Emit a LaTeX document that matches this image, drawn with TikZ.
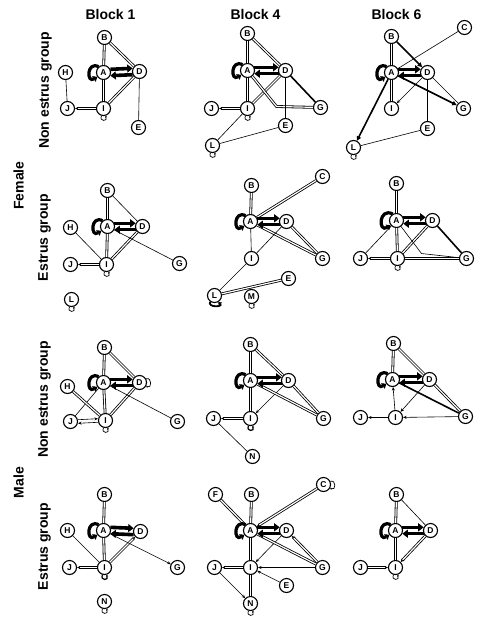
\documentclass[tikz,border=0pt]{standalone}
\usepackage{fontspec}
\setmainfont{Liberation Sans}
\usetikzlibrary{arrows.meta}
\begin{document}
\begin{tikzpicture}[x=1pt,y=-1pt,
 nd/.style={circle,draw,line width=1.1pt,fill=white,minimum size=14pt,inner sep=0pt,font=\bfseries\fontsize{8.5}{9}\selectfont},
 sl/.style={line width=0.6pt},
 dl/.style={double,double distance=1.2pt,line width=0.8pt},
 thk/.style={line width=1.6pt},
 tip/.style={-{Stealth[length=3.5pt,width=3pt]}},
 thtip/.style={-{Triangle[length=4.5pt,width=4.5pt]}},
 fat/.style={line width=3.6pt,-{Triangle[length=5.5pt,width=8pt]}},
 selfl/.style={line width=3.2pt,-{Triangle[length=4pt,width=6.5pt]}},
 sloop/.style={line width=0.7pt,-{Stealth[length=2pt,width=2pt]}},
 title/.style={font=\bfseries\fontsize{14}{14}\selectfont},
 rowlab/.style={font=\bfseries\fontsize{14}{14}\selectfont,rotate=90}
]
\useasboundingbox (0,0) rectangle (477,619);
\fill[white] (0,0) rectangle (477,619);
\begin{scope}[shift={(0.5,0.5)}]
% titles and labels
\node[title] (t1) at (110,14) {Block 1};
\node[title] (t4) at (255,14) {Block 4};
\node[title] (t6) at (396,14) {Block 6};
\node[rowlab] (lab1) at (45,90) {Non estrus group};
\node[rowlab] (lab2) at (44,237) {Estrus group};
\node[rowlab] (lab3) at (44,399) {Non estrus group};
\node[rowlab] (lab4) at (44,546) {Estrus group};
\node[rowlab] (fem) at (18,185) {Female};
\node[rowlab] (male) at (18,482) {Male};

% ---------- panel 1-1
\node[nd] (p11B) at (104,37) {B};
\node[nd] (p11A) at (103,72) {A};
\node[nd] (p11D) at (139,71) {D};
\node[nd] (p11H) at (65,72) {H};
\node[nd] (p11J) at (67,108) {J};
\node[nd] (p11I) at (103,108) {I};
\node[nd] (p11E) at (138,127) {E};
\draw[dl] (p11B) -- (p11A);
\draw[dl] (p11B) -- (p11D);
\draw[dl] (p11A) -- (p11I);
\draw[dl] (p11D) -- (p11I);
\draw[sl] (p11D) -- (p11E);
\draw[sl] (p11H) -- (p11J);
\draw[dl,tip] (p11I) -- (p11J);
\draw[fat] (p11A.25) -- (p11D.155);
\draw[fat] (p11D.205) -- (p11A.335);
\draw[selfl] (p11A.130) .. controls +(-12,-6) and +(-11,7) .. (p11A.215);
\draw[sloop] (p11I.255) .. controls +(-3,6) and +(3,6) .. (p11I.285);

% ---------- panel 1-2
\node[nd] (p12B) at (247,33) {B};
\node[nd] (p12A) at (247,70) {A};
\node[nd] (p12D) at (285,70) {D};
\node[nd] (p12J) at (211,108) {J};
\node[nd] (p12I) at (247,108) {I};
\node[nd] (p12G) at (320,107) {G};
\node[nd] (p12E) at (285,125) {E};
\node[nd] (p12L) at (212,145) {L};
\coordinate (p12k) at (276,106);
\draw[dl] (p12B) -- (p12A);
\draw[dl] (p12B) -- (p12D);
\draw[dl] (p12A) -- (p12I);
\draw[dl] (p12D) -- (p12I);
\draw[thk] (p12D) -- (p12G);
\draw[dl] (p12A) -- (p12k) -- (p12G);
\draw[sl] (p12D) -- (p12E);
\draw[dl,tip] (p12I) -- (p12J);
\draw[sl] (p12I) -- (p12L);
\draw[sl] (p12L) -- (p12E);
\draw[fat] (p12A.25) -- (p12D.155);
\draw[fat] (p12D.205) -- (p12A.335);
\draw[selfl] (p12A.130) .. controls +(-12,-6) and +(-11,7) .. (p12A.215);
\draw[sloop] (p12I.255) .. controls +(-3,6) and +(3,6) .. (p12I.285);
\draw[sloop] (p12L.255) .. controls +(-3,6) and +(3,6) .. (p12L.285);

% ---------- panel 1-3
\node[nd] (p13C) at (464,27) {C};
\node[nd] (p13B) at (391,36) {B};
\node[nd] (p13A) at (391,72) {A};
\node[nd] (p13D) at (427,72) {D};
\node[nd] (p13I) at (391,108) {I};
\node[nd] (p13G) at (463,108) {G};
\node[nd] (p13E) at (427,128) {E};
\node[nd] (p13L) at (353,147) {L};
\draw[sl] (p13A) -- (p13C);
\draw[dl] (p13B) -- (p13A);
\draw[thk,thtip] (p13B) -- (p13D);
\draw[dl] (p13A) -- (p13I);
\draw[sl,tip] (p13D) -- (p13I);
\draw[thk,thtip] (p13A) -- (p13G);
\draw[sl] (p13D) -- (p13G);
\draw[sl] (p13D) -- (p13E);
\draw[thk,thtip] (p13A) -- (p13L);
\draw[sl] (p13L) -- (p13E);
\draw[fat] (p13A.25) -- (p13D.155);
\draw[fat] (p13D.205) -- (p13A.335);
\draw[selfl] (p13A.130) .. controls +(-12,-6) and +(-11,7) .. (p13A.215);
\draw[sloop] (p13L.255) .. controls +(-3,6) and +(3,6) .. (p13L.285);

% ---------- panel 2-1
\node[nd] (p21B) at (107,190) {B};
\node[nd] (p21A) at (107,226) {A};
\node[nd] (p21D) at (142,226) {D};
\node[nd] (p21H) at (70,227) {H};
\node[nd] (p21J) at (70,264) {J};
\node[nd] (p21I) at (106,264) {I};
\node[nd] (p21G) at (179,263) {G};
\node[nd] (p21L) at (71,299) {L};
\draw[dl] (p21B) -- (p21A);
\draw[sl] (p21B) -- (p21D);
\draw[dl] (p21A) -- (p21I);
\draw[dl] (p21D) -- (p21I);
\draw[sl] (p21A) -- (p21G);
\draw[sl] (p21H) -- (p21I);
\draw[dl,tip] (p21I) -- (p21J);
\draw[fat] (p21A.25) -- (p21D.155);
\draw[fat] (p21D.205) -- (p21A.335);
\draw[selfl] (p21A.130) .. controls +(-12,-6) and +(-11,7) .. (p21A.215);
\draw[sloop] (p21I.255) .. controls +(-3,6) and +(3,6) .. (p21I.285);
\draw[sloop] (p21L.255) .. controls +(-3,6) and +(3,6) .. (p21L.285);

% ---------- panel 2-2
\node[nd] (p22C) at (322,176) {C};
\node[nd] (p22B) at (251,185) {B};
\node[nd] (p22A) at (250,221) {A};
\node[nd] (p22D) at (286,221) {D};
\node[nd] (p22I) at (251,258) {I};
\node[nd] (p22G) at (322,258) {G};
\node[nd] (p22E) at (288,278) {E};
\node[nd] (p22L) at (214,295) {L};
\node[nd] (p22M) at (251,296) {M};
\draw[dl] (p22B) -- (p22A);
\draw[dl] (p22A) -- (p22C);
\draw[dl] (p22A) -- (p22G);
\draw[dl] (p22D) -- (p22G);
\draw[sl] (p22A) -- (p22I);
\draw[sl] (p22D) -- (p22I);
\draw[sl] (p22I) -- (p22L);
\draw[dl] (p22L) -- (p22E);
\draw[fat] (p22A.25) -- (p22D.155);
\draw[fat] (p22D.205) -- (p22A.335);
\draw[selfl] (p22A.130) .. controls +(-12,-6) and +(-11,7) .. (p22A.215);
\draw[line width=1.8pt,-{Triangle[length=3pt,width=4.5pt]}] (p22L.235) .. controls +(-3,6) and +(5,5) .. (p22L.300);
\draw[sloop] (p22M.255) .. controls +(-3,6) and +(3,6) .. (p22M.285);

% ---------- panel 2-3
\node[nd] (p23B) at (396,183) {B};
\node[nd] (p23A) at (396,220) {A};
\node[nd] (p23D) at (432,220) {D};
\node[nd] (p23J) at (360,258) {J};
\node[nd] (p23I) at (397,258) {I};
\node[nd] (p23G) at (466,258) {G};
\coordinate (p23k) at (421,253);
\draw[dl] (p23B) -- (p23A);
\draw[dl] (p23A) -- (p23I);
\draw[sl] (p23A) -- (p23J);
\draw[dl] (p23D) -- (p23I);
\draw[thk] (p23D) -- (p23G);
\draw[sl] (p23A) -- (p23k) -- (p23G);
\draw[dl] (p23I) -- (p23G);
\draw[dl,tip] (p23I) -- (p23J);
\draw[fat] (p23A.25) -- (p23D.155);
\draw[fat] (p23D.205) -- (p23A.335);
\draw[selfl] (p23A.120) .. controls +(-14,-7) and +(-13,8) .. (p23A.220);
\draw[sloop] (p23I.255) .. controls +(-3,6) and +(3,6) .. (p23I.285);

% ---------- panel 3-1
\node[nd] (p31B) at (104,347) {B};
\node[nd] (p31A) at (103,382) {A};
\node[nd] (p31D) at (139,382) {D};
\node[nd] (p31H) at (67,386) {H};
\node[nd] (p31J) at (70,421) {J};
\node[nd] (p31I) at (105,420) {I};
\node[nd] (p31G) at (177,421) {G};
\draw[dl] (p31B) -- (p31A);
\draw[dl] (p31B) -- (p31D);
\draw[dl] (p31A) -- (p31I);
\draw[dl] (p31D) -- (p31I);
\draw[sl] (p31A) -- (p31J);
\draw[dl] (p31H) -- (p31I);
\draw[sl] (p31A) -- (p31G);
\draw[sl,tip] ([yshift=1.8pt]p31J.east) -- ([yshift=1.8pt]p31I.west);
\draw[sl,tip] ([yshift=-1.8pt]p31I.west) -- ([yshift=-1.8pt]p31J.east);
\draw[fat] (p31A.25) -- (p31D.155);
\draw[fat] (p31D.205) -- (p31A.335);
\draw[selfl] (p31A.130) .. controls +(-12,-6) and +(-11,7) .. (p31A.215);
\draw[sloop] (p31D.30) .. controls +(6,-2) and +(6,3) .. (p31D.-30);
\draw[sloop] (p31I.255) .. controls +(-3,6) and +(3,6) .. (p31I.285);

% ---------- panel 3-2
\node[nd] (p32B) at (250,344) {B};
\node[nd] (p32A) at (250,380) {A};
\node[nd] (p32D) at (288,380) {D};
\node[nd] (p32J) at (213,418) {J};
\node[nd] (p32I) at (250,418) {I};
\node[nd] (p32G) at (323,418) {G};
\node[nd] (p32N) at (252,456) {N};
\draw[dl] (p32B) -- (p32A);
\draw[dl] (p32B) -- (p32D);
\draw[dl] (p32A) -- (p32I);
\draw[sl,tip] (p32D) -- (p32I);
\draw[dl] (p32D) -- (p32G);
\draw[dl] (p32A) -- (p32G);
\draw[dl,tip] (p32I) -- (p32J);
\draw[sl] (p32J) -- (p32N);
\draw[fat] (p32A.25) -- (p32D.155);
\draw[fat] (p32D.205) -- (p32A.335);
\draw[selfl] (p32A.130) .. controls +(-12,-6) and +(-11,7) .. (p32A.215);
\draw[sloop,line width=1.2pt] (p32I.255) .. controls +(-3,6) and +(3,6) .. (p32I.285);

% ---------- panel 3-3
\node[nd] (p33B) at (393,343) {B};
\node[nd] (p33A) at (392,379) {A};
\node[nd] (p33D) at (429,379) {D};
\node[nd] (p33J) at (360,417) {J};
\node[nd] (p33I) at (395,417) {I};
\node[nd] (p33G) at (465,416) {G};
\draw[dl] (p33B) -- (p33A);
\draw[dl] (p33B) -- (p33D);
\draw[sl,tip] (p33I) -- (p33A);
\draw[sl,tip] (p33D) -- (p33I);
\draw[thk] (p33A) -- (p33G);
\draw[dl] (p33D) -- (p33G);
\draw[sl,tip] (p33G) -- (p33I);
\draw[sl,tip] (p33I) -- (p33J);
\draw[fat] (p33A.25) -- (p33D.155);
\draw[fat] (p33D.205) -- (p33A.335);
\draw[selfl] (p33A.130) .. controls +(-12,-6) and +(-11,7) .. (p33A.215);

% ---------- panel 4-1
\node[nd] (p41B) at (104,494) {B};
\node[nd] (p41A) at (103,530) {A};
\node[nd] (p41D) at (140,531) {D};
\node[nd] (p41H) at (67,530) {H};
\node[nd] (p41J) at (69,567) {J};
\node[nd] (p41I) at (104,567) {I};
\node[nd] (p41G) at (177,567) {G};
\node[nd] (p41N) at (104,601) {N};
\draw[dl] (p41B) -- (p41A);
\draw[dl] (p41A) -- (p41I);
\draw[dl,tip] (p41I) -- (p41D);
\draw[sl,tip] (p41A) -- (p41G);
\draw[sl] (p41H) -- (p41I);
\draw[dl,tip] (p41I) -- (p41J);
\draw[fat] (p41A.25) -- (p41D.155);
\draw[fat] (p41D.205) -- (p41A.335);
\draw[selfl] (p41A.130) .. controls +(-12,-6) and +(-11,7) .. (p41A.215);
\draw[sloop,line width=1.2pt] (p41I.255) .. controls +(-3,6) and +(3,6) .. (p41I.285);
\draw[sloop] (p41N.255) .. controls +(-3,6) and +(3,6) .. (p41N.285);

% ---------- panel 4-2
\node[nd] (p42F) at (215,494) {F};
\node[nd] (p42B) at (251,494) {B};
\node[nd] (p42C) at (323,484) {C};
\node[nd] (p42A) at (250,530) {A};
\node[nd] (p42D) at (286,530) {D};
\node[nd] (p42J) at (214,567) {J};
\node[nd] (p42I) at (250,567) {I};
\node[nd] (p42G) at (322,567) {G};
\node[nd] (p42E) at (286,585) {E};
\node[nd] (p42N) at (250,603) {N};
\draw[dl] (p42F) -- (p42A);
\draw[dl] (p42B) -- (p42A);
\draw[dl,tip] (p42C) -- (p42A);
\draw[dl] (p42A) -- (p42I);
\draw[sl,tip] (p42D) -- (p42I);
\draw[dl,tip] (p42G) -- (p42D);
\draw[dl] (p42G) -- (p42A);
\draw[sl,tip] (p42G) -- (p42I);
\draw[dl,tip] (p42I) -- (p42J);
\draw[sl,tip] (p42J) -- (p42N);
\draw[sl,tip] (p42E) -- (p42I);
\draw[dl] (p42I) -- (p42N);
\draw[fat] (p42A.25) -- (p42D.155);
\draw[fat] (p42D.205) -- (p42A.335);
\draw[selfl] (p42A.130) .. controls +(-12,-6) and +(-11,7) .. (p42A.215);
\draw[sloop] (p42C.25) .. controls +(6,-2) and +(6,3) .. (p42C.-30);
\draw[sloop] (p42N.255) .. controls +(-3,6) and +(3,6) .. (p42N.285);

% ---------- panel 4-3
\node[nd] (p43B) at (396,494) {B};
\node[nd] (p43A) at (395,530) {A};
\node[nd] (p43D) at (430,530) {D};
\node[nd] (p43J) at (360,567) {J};
\node[nd] (p43I) at (395,567) {I};
\draw[dl] (p43B) -- (p43A);
\draw[sl] (p43B) -- (p43D);
\draw[dl] (p43A) -- (p43I);
\draw[dl,tip] (p43D) -- (p43I);
\draw[dl,tip] (p43J) -- (p43I);
\draw[fat] (p43A.25) -- (p43D.155);
\draw[fat] (p43D.205) -- (p43A.335);
\draw[selfl] (p43A.130) .. controls +(-12,-6) and +(-11,7) .. (p43A.215);
\draw[sloop] (p43I.255) .. controls +(-3,6) and +(3,6) .. (p43I.285);
\end{scope}
\end{tikzpicture}
\end{document}
